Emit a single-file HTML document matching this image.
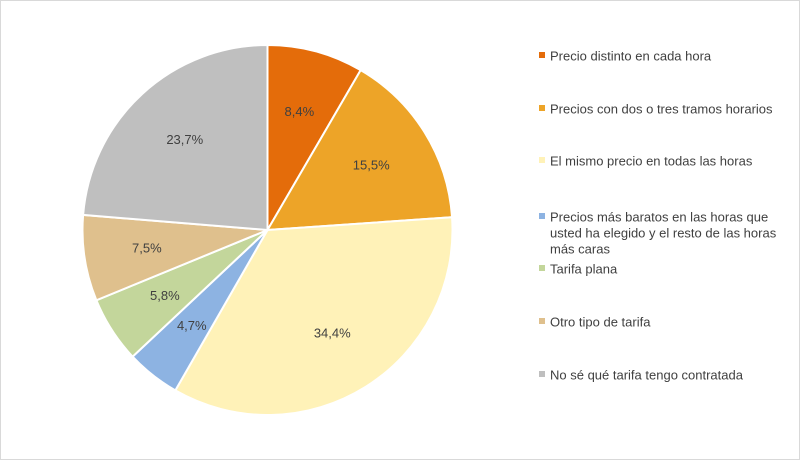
<!DOCTYPE html>
<html><head><meta charset="utf-8"><style>
body{margin:0;background:#fff;}
#c{width:800px;height:460px;position:relative;box-sizing:border-box;border:1px solid #d9d9d9;font-family:"Liberation Sans",sans-serif;}
svg text{font-family:"Liberation Sans",sans-serif;}
</style></head><body>
<div id="c">
<svg id="s" width="800" height="460" style="position:absolute;left:0;top:0"></svg>
</div>
<script>
const categories=["Precio distinto en cada hora","Precios con dos o tres tramos horarios","El mismo precio en todas las horas","Precios más baratos en las horas que usted ha elegido y el resto de las horas más caras","Tarifa plana","Otro tipo de tarifa","No sé qué tarifa tengo contratada"];
const values=[8.4,15.5,34.4,4.7,5.8,7.5,23.7];
const labels=["8,4%","15,5%","34,4%","4,7%","5,8%","7,5%","23,7%"];
const colors=["#e46c0a","#eda428","#fff2b8","#8db3e2","#c3d69b","#dfc08d","#bfbfbf"];
const legendLines=[["Precio distinto en cada hora"],["Precios con dos o tres tramos horarios"],["El mismo precio en todas las horas"],["Precios más baratos en las horas que","usted ha elegido y el resto de las horas","más caras"],["Tarifa plana"],["Otro tipo de tarifa"],["No sé qué tarifa tengo contratada"]];
const NS="http://www.w3.org/2000/svg";
const svg=document.getElementById('s');
const cx=266.5,cy=229,r=185;
const total=values.reduce((a,b)=>a+b,0);
function pt(a,rr){return [cx+rr*Math.sin(a),cy-rr*Math.cos(a)];}
let acc=0;
values.forEach((v,i)=>{
  const a0=acc/total*2*Math.PI;acc+=v;const a1=acc/total*2*Math.PI;
  const p0=pt(a0,r),p1=pt(a1,r);
  const large=(a1-a0)>Math.PI?1:0;
  const p=document.createElementNS(NS,'path');
  p.setAttribute('d',`M${cx},${cy}L${p0[0]},${p0[1]}A${r},${r} 0 ${large} 1 ${p1[0]},${p1[1]}Z`);
  p.setAttribute('fill',colors[i]);p.setAttribute('stroke','#fff');p.setAttribute('stroke-width','2');
  
  
  svg.appendChild(p);
  const am=(a0+a1)/2;const lp=pt(am,r*0.66);
  const t=document.createElementNS(NS,'text');
  t.setAttribute('x',lp[0]);t.setAttribute('y',lp[1]+4);t.setAttribute('text-anchor','middle');
  t.setAttribute('font-size','13');t.setAttribute('fill','#404040');t.textContent=labels[i];
  
  
  svg.appendChild(t);
});
const ly=[55,108,160,216,268,321,374];
legendLines.forEach((lines,i)=>{
  const g=document.createElementNS(NS,'g');
  
  
  const m=document.createElementNS(NS,'rect');
  m.setAttribute('x',538);m.setAttribute('y',ly[i]-4);m.setAttribute('width',6);m.setAttribute('height',6);m.setAttribute('fill',colors[i]);
  g.appendChild(m);
  lines.forEach((ln,j)=>{
    const t=document.createElementNS(NS,'text');
    t.setAttribute('x',549);t.setAttribute('y',ly[i]+4.5+j*16);t.setAttribute('font-size','13');t.setAttribute('fill','#404040');
    t.textContent=ln;g.appendChild(t);
  });
  svg.appendChild(g);
});
</script>
</body></html>
